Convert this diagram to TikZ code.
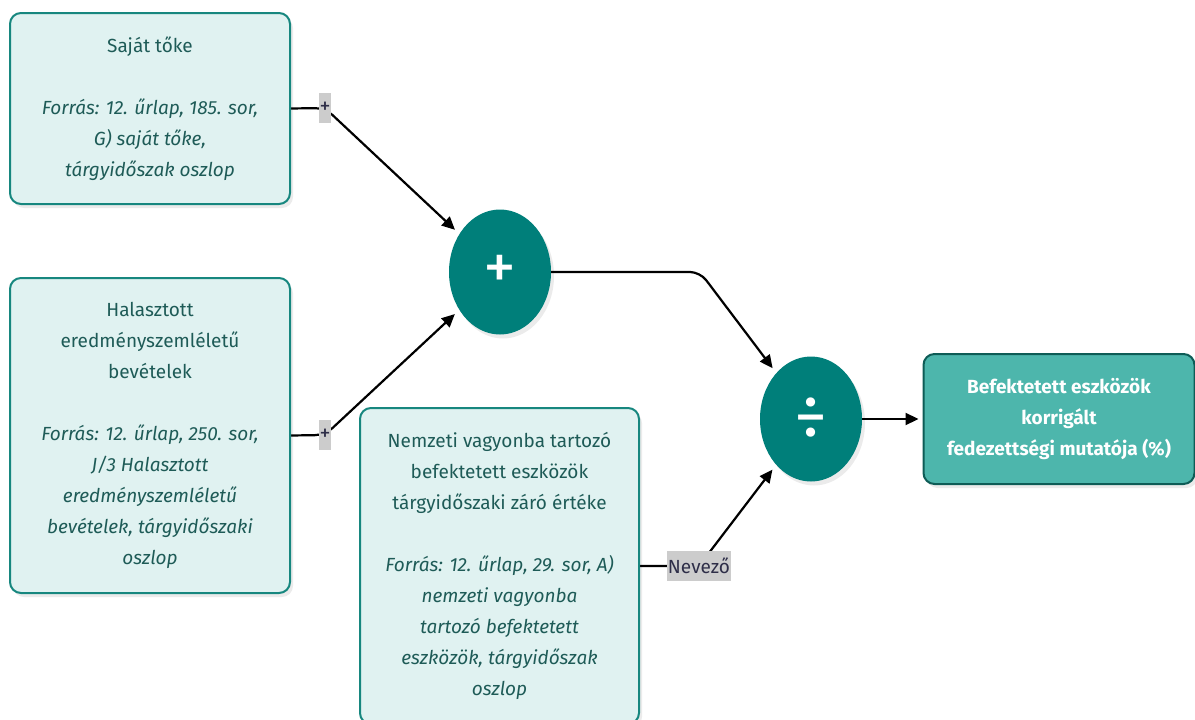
\documentclass[tikz,border=0pt]{standalone}
\usepackage{fontspec}
\setmainfont{Fira Sans}
\usetikzlibrary{arrows.meta,shadows,shapes.geometric}
\definecolor{srcfill}{HTML}{E0F2F1}
\definecolor{srcline}{HTML}{17877F}
\definecolor{srctext}{HTML}{1E5B57}
\definecolor{opfill}{HTML}{007F7A}
\definecolor{resfill}{HTML}{4DB6AC}
\definecolor{resline}{HTML}{0E5C56}
\definecolor{tagfill}{HTML}{CCCCCC}
\definecolor{tagtext}{HTML}{2E2E48}
\pgfdeclarelayer{wires}
\pgfsetlayers{wires,main}
\begin{document}
\begin{tikzpicture}[x=1pt,y=-1pt,
  softshadow/.style={drop shadow={shadow xshift=3pt,shadow yshift=-4pt,fill=black,opacity=0.08}},
  srcbox/.style={draw=srcline,fill=srcfill,line width=2pt,rounded corners=11pt,
    minimum width=280pt,align=center,text=srctext,inner sep=0pt,
    font=\fontsize{19}{31}\selectfont,softshadow},
  opnode/.style={ellipse,fill=opfill,minimum width=102pt,minimum height=125pt,
    inner sep=0pt,text=white,font=\fontsize{66}{66}\selectfont,softshadow},
  resbox/.style={draw=resline,fill=resfill,line width=2pt,rounded corners=11pt,
    minimum width=271pt,minimum height=130pt,align=center,text=white,inner sep=0pt,
    font=\fontsize{19}{31}\selectfont\bfseries,softshadow},
  tag/.style={fill=tagfill,text=tagtext,font=\fontsize{19}{20}\selectfont,
    minimum height=30pt,inner xsep=1pt,inner ysep=0pt},
  conn/.style={draw=black,line width=2.2pt,-{Triangle[length=13pt,width=12pt]},
    shorten >=6pt,rounded corners=10pt}]
\useasboundingbox (0,0) rectangle (1195,720);

% source boxes
\node[srcbox,minimum height=191pt] (own) at (150,108.5)
  {Saját tőke\\[31pt]
   \textit{Forrás: 12. űrlap, 185. sor,}\\
   \textit{G) saját tőke,}\\
   \textit{tárgyidőszak oszlop}};
\node[srcbox,minimum height=315pt] (deferred) at (150,435.5)
  {Halasztott\\eredményszemléletű\\bevételek\\[31pt]
   \textit{Forrás: 12. űrlap, 250. sor,}\\
   \textit{J/3 Halasztott}\\
   \textit{eredményszemléletű}\\
   \textit{bevételek, tárgyidőszaki}\\
   \textit{oszlop}};
\node[srcbox,minimum width=279pt,minimum height=316pt] (assets) at (499.5,566)
  {Nemzeti vagyonba tartozó\\befektetett eszközök\\tárgyidőszaki záró értéke\\[31pt]
   \textit{Forrás: 12. űrlap, 29. sor, A)}\\
   \textit{nemzeti vagyonba}\\
   \textit{tartozó befektetett}\\
   \textit{eszközök, tárgyidőszak}\\
   \textit{oszlop}};

% operators and result
\node[opnode] (sum) at (500,272) {+};
\node[opnode] (div) at (811,419) {÷};
\node[resbox] (result) at (1059,419)
  {Befektetett eszközök\\korrigált\\fedezettségi mutatója (\%)};

% connector labels
\node[tag,font=\fontsize{22}{20}\selectfont] (t1) at (325,108) {+};
\node[tag,font=\fontsize{22}{20}\selectfont] (t2) at (325,435) {+};
\node[tag] (t3) at (699,566) {Nevező};
\coordinate (bend) at (700,272);

\begin{pgfonlayer}{wires}
  \draw[conn] (own.east) -- (t1.center) -- (sum);
  \draw[conn] (deferred.east) -- (t2.center) -- (sum);
  \draw[conn] (sum.east) -- (bend) -- (div);
  \draw[conn] (assets.east) -- (t3.center) -- (div);
  \draw[conn,shorten >=4pt] (div.east) -- (result.west);
\end{pgfonlayer}
\end{tikzpicture}
\end{document}
